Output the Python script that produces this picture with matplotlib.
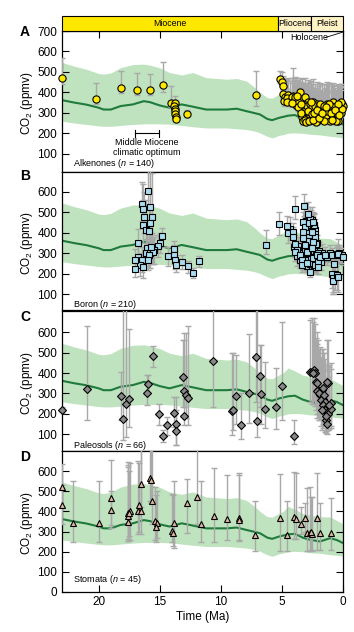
import matplotlib
matplotlib.use('Agg')
import matplotlib.pyplot as plt
from matplotlib.patches import Rectangle
import numpy as np

plt.rcParams['font.family'] = ['Liberation Sans', 'DejaVu Sans']
plt.rcParams['mathtext.fontset'] = 'custom'
plt.rcParams['mathtext.rm'] = 'Liberation Sans'
plt.rcParams['mathtext.it'] = 'Liberation Sans:italic'
plt.rcParams['mathtext.bf'] = 'Liberation Sans:bold'

# ---------------- data ----------------
band_age = [23.0, 22.0, 21.0, 20.0, 19.6, 19.0, 18.2, 17.2, 16.3, 15.8, 15.0, 14.2, 13.2, 12.3, 11.2, 9.5,
            8.7, 7.9, 7.2, 6.8, 6.2, 5.8, 5.2, 4.9, 4.5, 3.93, 3.3, 2.7, 1.88, 1.06, 0.5, 0.0]
band_mean = [362, 350, 340, 325, 316, 316, 333, 341, 357, 352, 336, 325, 341, 330, 316, 316,
             320, 308, 298, 292, 270, 264, 276, 280, 286, 289, 270, 259, 251, 267, 258, 243]
band_hi = [546, 528, 513, 492, 489, 495, 521, 536, 538, 533, 520, 497, 485, 497, 472, 464,
           468, 455, 423, 400, 374, 372, 392, 400, 425, 410, 390, 382, 374, 372, 355, 338]
band_lo = [259, 250, 243, 236, 234, 234, 238, 243, 246, 246, 246, 244, 238, 232, 226, 226,
           222, 218, 210, 202, 185, 177, 190, 193, 200, 202, 200, 195, 192, 185, 182, 178]

epochs = ['Miocene', 'Pliocene', 'Pleist']
epoch_start = [23.0, 5.33, 2.58]
epoch_end = [5.33, 2.58, 0.0]
epoch_colors = ['#ffe800', '#fff3c6', '#fff3c6']

alk_age = [
 23.0, 20.24, 18.2, 16.83, 15.82, 14.73, 14.05, 13.72, 13.8, 13.75,
 13.77, 13.72, 13.67, 13.67, 12.79, 7.15,
 5.16, 5.02, 4.89, 4.89, 4.75, 4.80, 4.47, 4.34, 4.07, 3.93,
 3.79, 3.52, 3.58, 3.38, 3.25, 3.11, 3.25, 3.25, 3.11, 2.97,
 2.97, 2.84, 2.76, 2.70, 2.56, 2.43, 2.35, 2.15, 2.10, 1.94,
 1.74, 1.61, 1.47, 1.33, 1.20, 1.12, 0.92, 0.79, 0.65, 0.52,
 0.38, 0.25, 0.11, 0.02, 0.19, 0.79, 3.20, 3.15, 3.05, 3.00,
 2.95, 2.90, 2.88, 2.82, 2.80, 2.72, 2.65, 2.62, 2.60, 3.30,
 3.35, 3.18, 3.08, 3.02, 2.92, 2.68, 2.50, 2.45, 2.40, 2.30,
 2.25, 2.20, 2.05, 2.00, 1.90, 1.85, 1.80, 1.68, 1.55, 1.40,
 1.28, 1.00, 0.85, 0.70, 0.60, 0.45, 0.30, 0.15, 0.05, 4.60,
 4.20, 4.00, 3.85, 3.70, 3.65, 3.45, 4.55, 3.95, 1.05, 1.55,
 0.55, 2.25, 3.40, 0.95, 0.40, 1.15, 2.60, 3.75, 4.15, 3.28,
 3.12, 3.00, 2.86, 2.78, 2.55, 2.48, 2.38, 2.15, 1.97, 1.70,
 0.88, 0.62, 0.35, 1.38]
alk_co2 = [
 470, 366, 421, 410, 410, 438, 348, 348, 335, 319,
 307, 294, 281, 269, 294, 389,
 466, 450, 430, 393, 379, 356, 388, 360, 384, 356,
 371, 400, 351, 363, 335, 379, 294, 269, 281, 310,
 261, 351, 294, 327, 274, 351, 310, 343, 261, 319,
 327, 294, 310, 343, 327, 294, 319, 302, 277, 327,
 261, 310, 343, 335, 351, 351, 300, 285, 270, 290,
 280, 265, 300, 275, 320, 285, 300, 265, 315, 315,
 280, 325, 340, 320, 335, 345, 330, 290, 270, 335,
 300, 280, 300, 335, 280, 345, 300, 270, 335, 285,
 310, 335, 285, 330, 300, 290, 330, 300, 320, 370,
 375, 360, 340, 355, 330, 345, 355, 375, 260, 262,
 258, 255, 300, 300, 345, 345, 355, 380, 350, 258,
 265, 255, 310, 260, 295, 265, 300, 315, 275, 300,
 265, 315, 290, 330]
alk_lo = [
 440, 341, 397, 385, 385, 402, 330, 330, 318, 300,
 290, 278, 265, 255, 278, 334,
 445, 430, 410, 370, 360, 335, 365, 340, 360, 335,
 350, 375, 330, 340, 315, 355, 275, 250, 262, 290,
 245, 330, 275, 305, 255, 330, 290, 320, 245, 300,
 305, 275, 290, 320, 305, 275, 300, 282, 258, 305,
 245, 290, 320, 315, 330, 330, 280, 265, 250, 270,
 260, 245, 280, 255, 300, 265, 280, 245, 295, 295,
 260, 305, 320, 300, 315, 325, 310, 270, 250, 315,
 280, 260, 280, 315, 260, 325, 280, 250, 315, 265,
 290, 315, 265, 310, 280, 270, 310, 280, 300, 350,
 355, 340, 320, 335, 310, 325, 335, 355, 245, 245,
 242, 240, 280, 280, 325, 325, 335, 360, 330, 242,
 250, 240, 290, 245, 275, 250, 280, 295, 255, 280,
 250, 295, 270, 310]
alk_hi = [
 566, 446, 505, 497, 492, 546, 430, 380, 365, 350,
 340, 325, 310, 300, 312, 505,
 505, 500, 480, 470, 460, 430, 470, 455, 520, 470,
 460, 470, 450, 465, 440, 470, 400, 380, 390, 420,
 360, 460, 400, 440, 380, 465, 420, 450, 370, 430,
 440, 400, 420, 450, 440, 400, 430, 410, 380, 430,
 370, 420, 440, 430, 440, 445, 410, 395, 380, 400,
 390, 375, 410, 385, 430, 395, 410, 375, 425, 425,
 390, 435, 445, 430, 445, 450, 440, 400, 380, 440,
 410, 390, 410, 440, 390, 445, 410, 380, 440, 395,
 420, 440, 395, 435, 410, 400, 435, 410, 425, 465,
 470, 460, 445, 455, 440, 450, 460, 475, 360, 365,
 360, 360, 410, 410, 440, 445, 455, 470, 445, 360,
 370, 360, 420, 365, 400, 370, 410, 420, 385, 410,
 370, 420, 400, 435]

bor_age = [
 15.98, 16.42, 15.79, 16.34, 15.60, 16.26, 15.79, 16.34, 16.15, 15.87,
 14.79, 16.75, 14.98, 15.11, 16.06, 15.66, 15.45, 16.15, 15.79, 14.30,
 16.75, 16.47, 16.61, 17.02, 17.02, 16.34, 13.83, 13.83, 13.75, 13.67,
 13.20, 12.66, 12.25, 11.79, 15.55, 15.90, 16.00, 15.70,
 6.33, 5.21, 4.61, 3.93, 3.16, 2.89, 4.12, 4.07, 3.93, 3.79,
 3.93, 3.52, 3.38, 3.38, 3.25, 3.11, 3.25, 3.25, 3.11, 2.97,
 2.97, 2.70, 2.76, 2.56, 2.43, 2.43, 2.56, 2.43, 2.29, 2.15,
 2.02, 1.88, 1.47, 2.02, 0.92, 0.52, 0.38, 0.02, 0.92, 0.84,
 0.79, 0.52, 0.38]
bor_co2 = [
 602, 542, 528, 516, 479, 479, 447, 439, 414, 411,
 385, 352, 352, 336, 324, 316, 316, 300, 300, 287,
 283, 267, 243, 267, 222, 231, 323, 293, 269, 245,
 258, 236, 204, 261, 305, 290, 270, 330,
 342, 441, 434, 518, 531, 493, 403, 381, 344, 316,
 308, 292, 267, 243, 455, 430, 406, 374, 341, 308,
 251, 210, 447, 406, 455, 357, 324, 276, 243, 292,
 259, 283, 292, 234, 292, 297, 295, 280, 199, 180,
 164, 194, 185]
bor_lo = [
 520, 460, 440, 430, 400, 400, 360, 350, 330, 330,
 330, 290, 300, 280, 260, 250, 250, 240, 230, 240,
 230, 210, 190, 220, 185, 180, 280, 250, 225, 210,
 225, 205, 180, 235, 250, 230, 220, 270,
 298, 390, 390, 470, 480, 450, 350, 330, 300, 270,
 265, 250, 230, 210, 410, 385, 360, 330, 300, 270,
 215, 185, 400, 360, 410, 315, 285, 240, 210, 255,
 225, 250, 260, 200, 260, 265, 260, 245, 130, 110,
 100, 120, 110]
bor_hi = [
 720, 650, 720, 640, 690, 600, 690, 560, 560, 520,
 425, 420, 400, 390, 400, 390, 380, 370, 380, 330,
 340, 330, 300, 320, 270, 290, 360, 340, 310, 290,
 290, 265, 230, 285, 370, 360, 340, 400,
 412, 500, 480, 580, 590, 550, 450, 430, 390, 360,
 350, 335, 305, 280, 500, 475, 450, 420, 385, 350,
 290, 240, 495, 450, 500, 400, 365, 315, 280, 330,
 295, 320, 330, 270, 325, 330, 330, 310, 270, 260,
 240, 280, 370]

bor2_age = [
 3.05, 3.00, 2.95, 2.92, 2.90, 2.88, 2.85, 2.82, 2.80, 2.78,
 2.75, 2.72, 2.70, 2.68, 2.65, 2.62, 2.60, 2.58, 2.55, 2.52,
 2.50, 2.48, 2.46, 2.44, 2.42, 2.40, 2.38, 2.36, 2.34, 2.32,
 2.30, 2.28, 2.26, 2.24, 2.22, 3.15, 3.10, 3.08, 3.02, 2.98,
 2.95, 2.93, 2.87, 2.84, 2.79, 2.74, 2.71, 2.66, 2.63, 2.61,
 2.57, 2.53, 2.49, 2.45, 2.41, 2.37, 2.33, 2.29, 2.21, 2.18,
 2.12, 2.08, 1.95, 1.80, 1.70, 1.30, 1.10, 0.70, 0.60, 3.45,
 3.60, 3.70, 3.00, 2.86, 2.77, 2.67, 2.51, 2.39, 2.31, 2.27,
 3.20, 3.28, 3.50, 3.80, 4.00, 4.30, 4.50, 0.30, 0.10, 0.85,
 0.65, 2.90, 2.85, 2.80, 2.75, 2.70, 2.65, 2.60, 2.55, 2.50,
 2.45, 2.40, 2.35, 2.30, 2.25, 2.20, 2.15, 2.10, 2.05, 3.10,
 3.00, 2.95, 2.88, 2.83, 2.73, 2.64, 2.54, 2.47, 2.36, 2.28,
 2.16, 2.60, 2.52, 2.44, 2.34, 2.69, 2.81, 2.93, 3.05]
bor2_co2 = [
 460, 445, 420, 400, 385, 370, 360, 345, 330, 315,
 300, 290, 275, 260, 250, 240, 395, 380, 365, 350,
 335, 320, 305, 290, 265, 250, 400, 385, 370, 355,
 340, 320, 300, 280, 262, 390, 365, 350, 330, 280,
 265, 240, 440, 415, 430, 410, 395, 435, 420, 300,
 285, 270, 430, 420, 440, 305, 290, 270, 310, 330,
 350, 280, 310, 260, 300, 280, 300, 250, 290, 320,
 300, 335, 395, 325, 355, 340, 375, 360, 415, 395,
 280, 255, 270, 285, 330, 420, 400, 300, 290, 170,
 200, 310, 330, 380, 350, 360, 320, 345, 330, 300,
 360, 330, 310, 380, 345, 290, 270, 250, 300, 310,
 350, 360, 290, 270, 250, 280, 240, 260, 245, 235,
 265, 455, 465, 250, 440, 470, 255, 300, 410]
bor2_err = [
 45, 50, 40, 45, 35, 40, 50, 45, 40, 35,
 40, 45, 35, 40, 30, 35, 50, 45, 40, 45,
 35, 40, 45, 35, 30, 35, 55, 45, 40, 50,
 40, 35, 45, 40, 30, 50, 45, 40, 35, 40,
 35, 30, 55, 50, 45, 40, 50, 55, 45, 35,
 40, 35, 50, 45, 55, 40, 35, 30, 40, 45,
 40, 35, 45, 40, 45, 35, 40, 60, 50, 45,
 40, 45, 50, 40, 45, 40, 45, 50, 55, 45,
 40, 35, 40, 45, 50, 55, 50, 40, 35, 70,
 80, 40, 45, 50, 40, 45, 40, 45, 40, 35,
 45, 40, 35, 50, 45, 35, 30, 30, 40, 40,
 45, 50, 35, 30, 30, 35, 30, 35, 30, 30,
 35, 55, 60, 30, 50, 55, 30, 40, 50]

pal_age = [
 23.0, 20.98, 18.17, 17.98, 17.79, 17.49, 16.07, 15.99, 15.58, 15.09,
 14.71, 14.38, 13.83, 13.70, 13.70, 13.10, 13.02, 13.02, 12.88, 12.71,
 10.61, 9.06, 8.98, 8.79, 8.38, 7.72, 7.12, 7.04, 6.79, 6.68,
 6.38, 5.48, 4.99, 3.98,
 2.70, 2.56, 2.37, 2.29, 2.43, 2.21, 2.02, 1.88, 1.74, 1.20,
 1.64, 1.82, 1.47, 1.61, 1.33, 1.12, 1.47, 1.20, 1.39, 1.33,
 1.01, 1.69, 1.61, 1.34, 2.10, 1.95, 1.55, 1.25, 1.40, 0.95,
 1.15, 2.15]
pal_co2 = [
 218, 321, 287, 174, 248, 272, 303, 346, 484, 197,
 90, 144, 205, 148, 116, 382, 190, 311, 292, 279,
 459, 213, 221, 287, 144, 303, 479, 164, 385, 295,
 226, 234, 336, 93,
 407, 406, 415, 398, 398, 357, 316, 292, 316, 349,
 275, 267, 259, 242, 234, 231, 218, 210, 169, 152,
 251, 218, 325, 357, 310, 300, 290, 200, 190, 225,
 245, 350]
pal_lo = [
 205, 169, 169, 70, 87, 136, 243, 300, 431, 144,
 62, 95, 136, 46, 46, 234, 144, 234, 180, 144,
 234, 95, 120, 152, 79, 156, 259, 87, 234, 152,
 133, 125, 172, 54,
 260, 250, 270, 240, 250, 220, 180, 170, 190, 210,
 150, 140, 140, 130, 120, 125, 110, 120, 105, 100,
 140, 120, 190, 210, 180, 170, 160, 120, 115, 130,
 140, 200]
pal_hi = [
 232, 631, 407, 720, 720, 615, 390, 390, 533, 248,
 120, 185, 284, 284, 218, 562, 562, 595, 595, 631,
 720, 497, 497, 489, 300, 590, 720, 720, 538, 538,
 452, 426, 652, 172,
 660, 670, 670, 640, 650, 570, 560, 530, 520, 560,
 500, 480, 470, 450, 440, 430, 420, 410, 330, 300,
 450, 400, 520, 560, 540, 520, 500, 380, 360, 420,
 440, 600]

sto_age = [
 23.0, 23.0, 22.06, 19.97, 18.99, 18.99, 17.63, 17.63, 17.44, 17.63,
 16.81, 16.68, 16.54, 16.54, 15.80, 15.72, 15.66, 15.36, 15.25, 15.31,
 13.83, 13.97, 13.89, 12.80, 11.98, 11.62, 10.53, 9.52, 8.51, 8.51,
 7.17, 5.13, 4.61, 4.01, 3.85, 3.41, 3.11, 2.92, 2.70, 2.56,
 2.65, 2.10, 1.88, 1.01, 17.5]
sto_co2 = [
 522, 430, 342, 342, 467, 405, 376, 347, 400, 392,
 400, 431, 400, 538, 567, 558, 452, 352, 344, 324,
 344, 303, 292, 444, 473, 339, 379, 360, 368, 357,
 282, 368, 282, 373, 363, 339, 366, 292, 292, 287,
 300, 368, 292, 292, 390]
sto_lo = [
 420, 340, 247, 247, 332, 320, 255, 251, 260, 265,
 290, 300, 290, 420, 450, 440, 340, 260, 270, 250,
 219, 247, 230, 295, 340, 247, 247, 258, 255, 260,
 203, 203, 203, 263, 263, 290, 300, 206, 206, 206,
 210, 209, 209, 209, 280]
sto_hi = [
 635, 530, 551, 551, 655, 500, 644, 622, 640, 630,
 648, 640, 720, 720, 720, 720, 720, 520, 500, 480,
 551, 485, 480, 563, 720, 551, 614, 579, 592, 580,
 452, 587, 452, 597, 592, 420, 440, 517, 522, 470,
 470, 590, 440, 465, 600]

x_ticks = [20, 15, 10, 5, 0]

# ---------------- figure ----------------
W, H = 354, 632
fig = plt.figure(figsize=(W / 100, H / 100), dpi=100)
L, R = 62, 343


def add_ax(top, bottom):
    return fig.add_axes([L / W, 1 - bottom / H, (R - L) / W, (bottom - top) / H])


panels = [
    dict(top=31, bottom=171.5, ylim=(13, 700), yticks=[100, 200, 300, 400, 500, 600, 700],
         letter='A', letter_y=32, label='Alkenones ($n$ = 140)', label_y=164),
    dict(top=172, bottom=309.5, ylim=(26, 697), yticks=[100, 200, 300, 400, 500, 600],
         letter='B', letter_y=176, label='Boron ($n$ = 210)', label_y=304),
    dict(top=311, bottom=451, ylim=(18, 704), yticks=[100, 200, 300, 400, 500, 600],
         letter='C', letter_y=317, label='Paleosols ($n$ = 66)', label_y=445),
    dict(top=451, bottom=592, ylim=(0, 700), yticks=[0, 100, 200, 300, 400, 500, 600],
         letter='D', letter_y=457, label='Stomata ($n$ = 45)', label_y=579),
]

ecol = '#a8a8a8'
axes = []
for i, p in enumerate(panels):
    ax = add_ax(p['top'], p['bottom'])
    axes.append(ax)
    ax.set_xlim(23, 0)
    ax.set_ylim(*p['ylim'])
    ax.fill_between(band_age, band_lo, band_hi, color='#bfe3bf', lw=0, zorder=1)
    ax.plot(band_age, band_mean, color='#1f7a3c', lw=1.5, zorder=2)
    ax.set_yticks(p['yticks'])
    ax.set_xticks(x_ticks)
    ax.tick_params(axis='y', direction='in', length=5, width=0.8, left=True, right=True,
                   labelsize=8.5, pad=3.5)
    ax.tick_params(axis='x', direction='in', length=5, width=0.8, labelsize=8.5, pad=3,
                   bottom=(i == 3), top=(i == 0), labelbottom=(i == 3))
    for s in ax.spines.values():
        s.set_linewidth(0.9)
    fig.text(25 / W, 1 - p['letter_y'] / H, p['letter'], fontsize=10, fontweight='bold',
             ha='center', va='center')
    fig.text(27 / W, 1 - ((p['top'] + p['bottom']) / 2 + 2) / H, 'CO$_2$ (ppmv)', rotation=90,
             fontsize=8.5, ha='center', va='center')
    ax.text(0.038, (p['bottom'] - p['label_y']) / (p['bottom'] - p['top']), p['label'],
            transform=ax.transAxes, fontsize=6.5, ha='left', va='center', zorder=6)


def draw(ax, age, co2, lo, hi, marker, ms, fc):
    age = np.asarray(age, float)
    co2 = np.asarray(co2, float)
    lo = np.asarray(lo, float)
    hi = np.asarray(hi, float)
    ax.errorbar(age, co2, yerr=[np.abs(co2 - lo), np.abs(hi - co2)], fmt='none', ecolor=ecol,
                elinewidth=1.0, capsize=2.5, capthick=1.0, zorder=3)
    ax.plot(age, co2, ls='none', marker=marker, ms=ms, mfc=fc, mec='black', mew=0.8,
            zorder=4, clip_on=False)


def draw_sym(ax, age, co2, err, marker, ms, fc):
    age = np.asarray(age, float)
    co2 = np.asarray(co2, float)
    err = np.asarray(err, float)
    ax.errorbar(age, co2, yerr=err, fmt='none', ecolor=ecol, elinewidth=1.0, capsize=2.5,
                capthick=1.0, zorder=3)
    ax.plot(age, co2, ls='none', marker=marker, ms=ms, mfc=fc, mec='black', mew=0.8,
            zorder=4, clip_on=False)


draw(axes[0], alk_age, alk_co2, alk_lo, alk_hi, 'o', 5.2, '#ffe800')
draw_sym(axes[1], bor2_age, bor2_co2, bor2_err, 's', 4.8, '#aadcf0')
draw(axes[1], bor_age, bor_co2, bor_lo, bor_hi, 's', 4.8, '#aadcf0')
draw(axes[2], pal_age, pal_co2, pal_lo, pal_hi, 'D', 3.8, '#888888')
draw(axes[3], sto_age, sto_co2, sto_lo, sto_hi, '^', 4.6, '#dfb9a0')

# annotations in panel A
axA = axes[0]
axA.plot([17.0, 15.1], [199, 199], color='black', lw=0.8, zorder=5)
axA.plot([17.0, 17.0], [181, 218], color='black', lw=0.8, zorder=5)
axA.plot([15.1, 15.1], [181, 218], color='black', lw=0.8, zorder=5)
axA.text(16.1, 131, 'Middle Miocene\nclimatic optimum', fontsize=6.5, ha='center', va='center',
         linespacing=1.05, zorder=6)
axA.text(2.78, 668, 'Holocene', fontsize=6.5, ha='center', va='center', zorder=6)
axA.plot([1.45, 0.05], [668, 694], color='black', lw=0.6, zorder=6, clip_on=False)

# epoch bar
axE = fig.add_axes([L / W, 1 - 31 / H, (R - L) / W, 15.5 / H])
axE.set_xlim(23, 0)
axE.set_ylim(0, 1)
axE.axis('off')
for name, s, e, c in zip(epochs, epoch_start, epoch_end, epoch_colors):
    axE.add_patch(Rectangle((e, 0), s - e, 1, facecolor=c, edgecolor='black', lw=0.8,
                            clip_on=False))
    axE.text((s + e) / 2, 0.5, name, fontsize=6.3, ha='center', va='center')

fig.text(203 / W, 1 - 617 / H, 'Time (Ma)', fontsize=8.5, ha='center', va='center')

fig.savefig('out.png', dpi=100)
